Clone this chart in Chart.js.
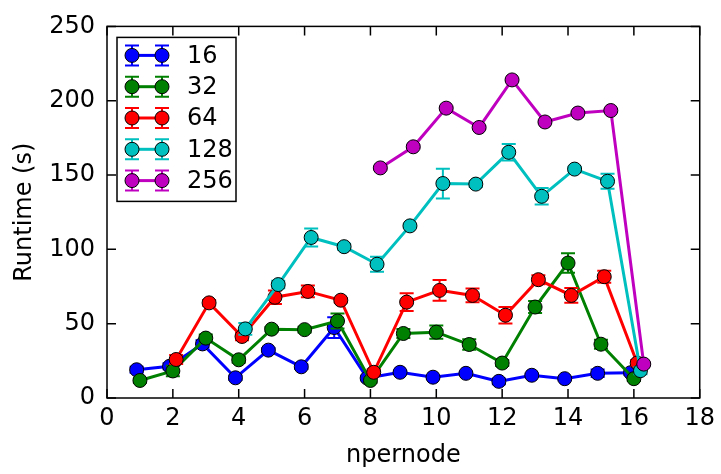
<!DOCTYPE html>
<html>
<head>
<meta charset="utf-8">
<script src="https://cdn.jsdelivr.net/npm/chart.js@4/dist/chart.umd.min.js"></script>
<style>
  html, body { margin: 0; padding: 0; background: #fff; }
</style>
</head>
<body>
<canvas id="runtimeChart" width="721" height="474"></canvas>
<script>
// series names and matplotlib "classic" colours
const seriesNames = ['16', '32', '64', '128', '256']
const seriesColors = ['#0000ff', '#008000', '#ff0000', '#00bfbf', '#bf00bf']
// each series is shifted a little along x so the error bars don't overlap
const xShift = [-0.1, 0, 0.1, 0.2, 0.3]

const npernode16 = [1, 2, 3, 4, 5, 6, 7, 8, 9, 10, 11, 12, 13, 14, 15, 16]
const runtime16 = [19, 21.3, 36.4, 13.6, 32.2, 21, 47.4, 13.4, 17.3, 14, 16.6, 11.2, 15.3, 13, 16.6, 17]
const err16 = [2, 2, 2.5, 1.5, 1.5, 1.5, 7, 1.5, 1, 1, 1, 2, 1, 1, 2.5, 1.5]

const npernode32 = [1, 2, 3, 4, 5, 6, 7, 8, 9, 10, 11, 12, 13, 14, 15, 16]
const runtime32 = [11.8, 18.2, 40.3, 25.7, 46.3, 46, 51.8, 11.8, 43.4, 44.3, 36, 23.5, 61.2, 90.8, 36.2, 13]
const err32 = [1.5, 3.5, 2.5, 2, 1.5, 2, 5, 1.5, 3, 4.5, 3.5, 2, 4, 6.6, 3, 1.5]

const npernode64 = [2, 3, 4, 5, 6, 7, 8, 9, 10, 11, 12, 13, 14, 15, 16]
const runtime64 = [25.9, 64, 41.4, 67.8, 71.7, 65.8, 17.3, 64.5, 72.4, 69, 55.7, 79.6, 69, 81.6, 23.5]
const err64 = [3, 2, 2.5, 4.6, 4, 1.5, 2, 6, 7, 4.6, 5.5, 3, 5, 4, 2]

const npernode128 = [4, 5, 6, 7, 8, 9, 10, 11, 12, 13, 14, 15, 16]
const runtime128 = [46.5, 76.3, 108, 101.8, 90, 115.8, 144.3, 143.9, 165.3, 135.7, 154, 145.8, 18.4]
const err128 = [4, 2.5, 6, 2, 5, 1.5, 10, 2, 5.5, 5.5, 1.5, 5, 2.5]

const npernode256 = [8, 9, 10, 11, 12, 13, 14, 15, 16]
const runtime256 = [154.8, 169, 195, 182, 214, 185.7, 191.7, 193.4, 22.8]
const err256 = [1, 1, 1, 1, 1, 1, 1, 1, 1]

const xTicksStep = 2
const yTicksStep = 50

const allX = [npernode16, npernode32, npernode64, npernode128, npernode256]
const allY = [runtime16, runtime32, runtime64, runtime128, runtime256]
const allErr = [err16, err32, err64, err128, err256]

const fontFamily = '"DejaVu Sans", sans-serif'
const fontSize = 24
const capHalf = 7
const markerR = 7

const datasets = seriesNames.map((name, i) => ({
    label: name,
    data: allX[i].map((n, j) => ({ x: n + xShift[i], y: allY[i][j] })),
    errors: allErr[i],
    borderColor: seriesColors[i],
    backgroundColor: seriesColors[i],
    borderWidth: 3,
    pointRadius: markerR,
    pointBackgroundColor: seriesColors[i],
    pointBorderColor: '#000',
    pointBorderWidth: 1,
    tension: 0,
    order: seriesNames.length - i
}))

// error bars, drawn just before each series so the markers sit on top
const errorBars = {
    id: 'errorBars',
    beforeDatasetDraw(chart, args) {
        const ds = chart.data.datasets[args.index]
        const yScale = chart.scales.y
        const ctx = chart.ctx
        ctx.save()
        ctx.strokeStyle = ds.borderColor
        ctx.lineWidth = 2
        args.meta.data.forEach((pt, j) => {
            const v = ds.data[j].y
            const e = ds.errors[j]
            const top = yScale.getPixelForValue(v + e)
            const bot = yScale.getPixelForValue(v - e)
            ctx.beginPath()
            ctx.moveTo(pt.x, top); ctx.lineTo(pt.x, bot)
            ctx.moveTo(pt.x - capHalf, top); ctx.lineTo(pt.x + capHalf, top)
            ctx.moveTo(pt.x - capHalf, bot); ctx.lineTo(pt.x + capHalf, bot)
            ctx.stroke()
        })
        ctx.restore()
    }
}

// axes box with inward ticks on all four sides
const frame = {
    id: 'frame',
    afterDatasetsDraw(chart) {
        const { ctx, chartArea: a, scales } = chart
        ctx.save()
        ctx.strokeStyle = '#000'
        ctx.lineWidth = 1.5
        ctx.strokeRect(a.left, a.top, a.right - a.left, a.bottom - a.top)
        const len = 9
        ctx.beginPath()
        scales.x.ticks.forEach(t => {
            const px = scales.x.getPixelForValue(t.value)
            ctx.moveTo(px, a.bottom); ctx.lineTo(px, a.bottom - len)
            ctx.moveTo(px, a.top); ctx.lineTo(px, a.top + len)
        })
        scales.y.ticks.forEach(t => {
            const py = scales.y.getPixelForValue(t.value)
            ctx.moveTo(a.left, py); ctx.lineTo(a.left + len, py)
            ctx.moveTo(a.right, py); ctx.lineTo(a.right - len, py)
        })
        ctx.stroke()
        ctx.restore()
    }
}

// matplotlib-like legend box in the upper left
const boxLegend = {
    id: 'boxLegend',
    afterDraw(chart) {
        const { ctx, chartArea: a } = chart
        const left = a.left + 10
        const top = a.top + 11
        const w = 119
        const h = 164
        ctx.save()
        ctx.fillStyle = '#fff'
        ctx.fillRect(left, top, w, h)
        ctx.strokeStyle = '#000'
        ctx.lineWidth = 1.5
        ctx.strokeRect(left, top, w, h)
        chart.data.datasets.forEach((ds, i) => {
            const y = top + 18 + i * 31.3
            const x1 = left + 15
            const x2 = left + 45
            ctx.strokeStyle = ds.borderColor
            ctx.lineWidth = 3
            ctx.beginPath(); ctx.moveTo(x1, y); ctx.lineTo(x2, y); ctx.stroke()
            ctx.lineWidth = 2
            ;[x1, x2].forEach(x => {
                ctx.beginPath()
                ctx.moveTo(x, y - 10); ctx.lineTo(x, y + 10)
                ctx.moveTo(x - capHalf, y - 10); ctx.lineTo(x + capHalf, y - 10)
                ctx.moveTo(x - capHalf, y + 10); ctx.lineTo(x + capHalf, y + 10)
                ctx.stroke()
            })
            ;[x1, x2].forEach(x => {
                ctx.beginPath()
                ctx.arc(x, y, markerR, 0, Math.PI * 2)
                ctx.fillStyle = ds.backgroundColor
                ctx.fill()
                ctx.lineWidth = 1
                ctx.strokeStyle = '#000'
                ctx.stroke()
            })
            ctx.fillStyle = '#000'
            ctx.font = fontSize + 'px ' + fontFamily
            ctx.textBaseline = 'middle'
            ctx.textAlign = 'left'
            ctx.fillText(ds.label, left + 70, y + 1)
        })
        ctx.restore()
    }
}

new Chart('runtimeChart', {
    type: 'line',
    data: { datasets },
    options: {
        responsive: false,
        animation: false,
        devicePixelRatio: 1,
        layout: { padding: { top: 18, right: 19, left: 0, bottom: 0 } },
        plugins: { legend: { display: false }, tooltip: { enabled: false } },
        scales: {
            x: {
                type: 'linear',
                min: 0, max: 18,
                ticks: { stepSize: xTicksStep, color: '#000', padding: 6, font: { family: fontFamily, size: fontSize } },
                grid: { display: false, drawTicks: false, tickLength: 0 },
                border: { display: false },
                title: { display: true, text: 'npernode', color: '#000', font: { family: fontFamily, size: fontSize }, padding: { top: 0, bottom: 4 } },
                afterFit: s => { s.height = 76 }
            },
            y: {
                min: 0, max: 250,
                ticks: { stepSize: yTicksStep, color: '#000', padding: 12, font: { family: fontFamily, size: fontSize } },
                grid: { display: false, drawTicks: false, tickLength: 0 },
                border: { display: false },
                title: { display: true, text: 'Runtime (s)', color: '#000', font: { family: fontFamily, size: fontSize }, padding: { top: 10, bottom: 0 } },
                afterFit: s => { s.width = 107 }
            }
        }
    },
    plugins: [errorBars, frame, boxLegend]
})
</script>
</body>
</html>
